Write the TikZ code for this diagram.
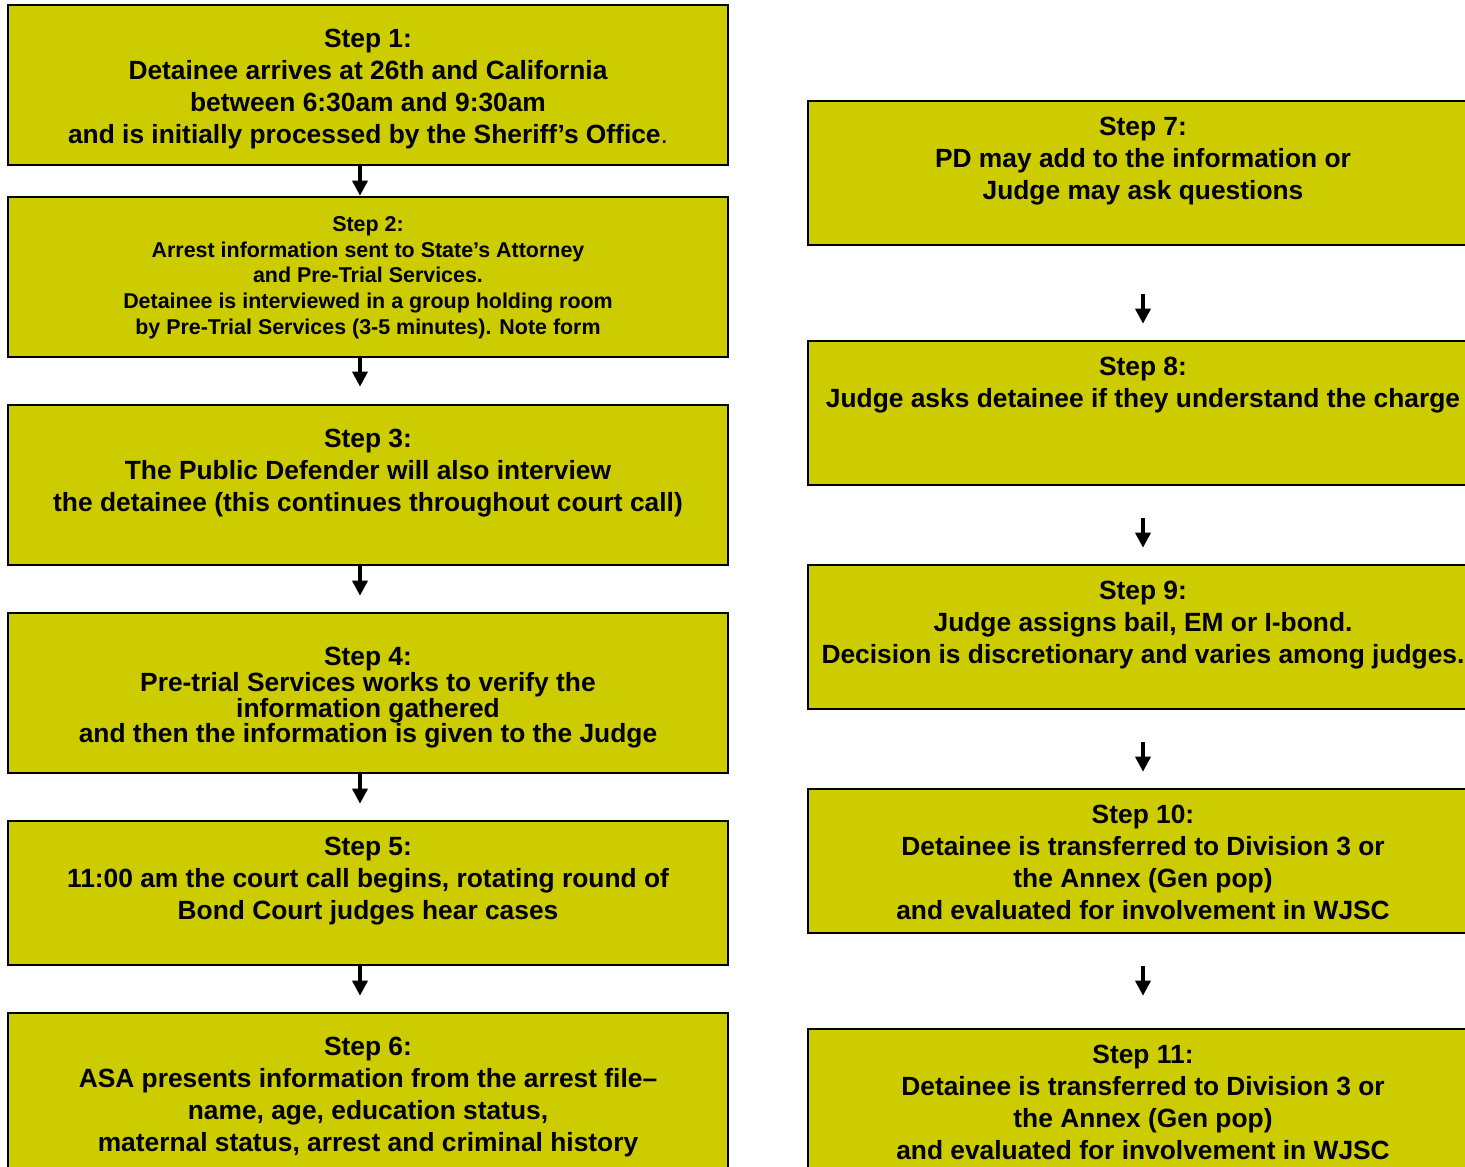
\documentclass[tikz,border=0pt]{standalone}
\usepackage{fontspec}
\setmainfont{Liberation Sans}
\usetikzlibrary{arrows.meta,positioning}
\definecolor{stepfill}{RGB}{204,204,0}

\begin{document}
\begin{tikzpicture}[x=0.02cm,y=-0.02cm,
    stepbox/.style={draw, line width=1.5pt, fill=stepfill, inner sep=0pt},
    leftbox/.style={stepbox, minimum width=14.4cm},
    rightbox/.style={stepbox, minimum width=13.4cm, minimum height=2.88cm},
    steptext/.style={font=\bfseries\fontsize{15}{18.2}\selectfont, align=center, inner sep=0pt},
    flow/.style={line width=1.9pt, -{Triangle[length=0.3cm,width=0.3cm]}}]

  \useasboundingbox (0,0) rectangle (1465,1167);
  \clip (0,0) rectangle (1465,1167);

  % left column
  \node[leftbox, minimum height=3.2cm]  (s1) at (368,85)   {};
  \node[leftbox, minimum height=3.2cm]  (s2) at (368,277)  {};
  \node[leftbox, minimum height=3.2cm]  (s3) at (368,485)  {};
  \node[leftbox, minimum height=3.2cm]  (s4) at (368,693)  {};
  \node[leftbox, minimum height=2.88cm] (s5) at (368,893)  {};
  \node[leftbox, minimum height=3.2cm]  (s6) at (368,1093) {};

  % right column
  \node[rightbox] (s7)  at (1143,173)  {};
  \node[rightbox] (s8)  at (1143,413)  {};
  \node[rightbox] (s9)  at (1143,637)  {};
  \node[rightbox] (s10) at (1143,861)  {};
  \node[rightbox] (s11) at (1143,1101) {};

  \node[steptext, below=0.51cm of s1.north] (t1)
    {Step 1:\\Detainee arrives at 26th and California\\between 6:30am and 9:30am\\and is initially processed by the Sheriff’s Office{\mdseries .}};
  \node[steptext, font=\bfseries\fontsize{12.2}{14.6}\selectfont, below=0.41cm of s2.north] (t2)
    {Step 2:\\Arrest information sent to State’s Attorney\\and Pre-Trial Services.\\Detainee is interviewed in a group holding room\\by Pre-Trial Services (3-5 minutes). Note form};
  \node[steptext, below=0.51cm of s3.north] (t3)
    {Step 3:\\The Public Defender will also interview\\the detainee (this continues throughout court call)};
  \node[steptext, font=\bfseries\fontsize{15}{14.6}\selectfont, below=0.71cm of s4.north] (t4)
    {Step 4:\\Pre-trial Services works to verify the\\information gathered\\and then the information is given to the Judge};
  \node[steptext, below=0.35cm of s5.north] (t5)
    {Step 5:\\11:00 am the court call begins, rotating round of\\Bond Court judges hear cases};
  \node[steptext, below=0.51cm of s6.north] (t6)
    {Step 6:\\ASA presents information from the arrest file–\\name, age, education status,\\maternal status, arrest and criminal history};

  \node[steptext, below=0.35cm of s7.north] (t7)
    {Step 7:\\PD may add to the information or\\Judge may ask questions};
  \node[steptext, below=0.35cm of s8.north] (t8)
    {Step 8:\\Judge asks detainee if they understand the charge};
  \node[steptext, below=0.35cm of s9.north] (t9)
    {Step 9:\\Judge assigns bail, EM or I-bond.\\Decision is discretionary and varies among judges.};
  \node[steptext, below=0.35cm of s10.north] (t10)
    {Step 10:\\Detainee is transferred to Division 3 or\\the Annex (Gen pop)\\and evaluated for involvement in WJSC};
  \node[steptext, below=0.35cm of s11.north] (t11)
    {Step 11:\\Detainee is transferred to Division 3 or\\the Annex (Gen pop)\\and evaluated for involvement in WJSC};

  % arrows
  \draw[flow] ([xshift=-0.16cm]s1.south) -- ([xshift=-0.16cm]s2.north);
  \draw[flow, shorten >=0.34cm] ([xshift=-0.16cm]s2.south) -- ([xshift=-0.16cm]s3.north);
  \foreach \a/\b in {s3/s4,s4/s5,s5/s6}{
    \draw[flow, shorten >=0.32cm] ([xshift=-0.16cm]\a.south) -- ([xshift=-0.16cm]\b.north);
  }
  \draw[flow, shorten <=0.96cm, shorten >=0.32cm] (s7.south) -- (s8.north);
  \draw[flow, shorten <=0.64cm, shorten >=0.32cm] (s8.south) -- (s9.north);
  \draw[flow, shorten <=0.64cm, shorten >=0.32cm] (s9.south) -- (s10.north);
  \draw[flow, shorten <=0.64cm, shorten >=0.64cm] (s10.south) -- (s11.north);

\end{tikzpicture}
\end{document}
